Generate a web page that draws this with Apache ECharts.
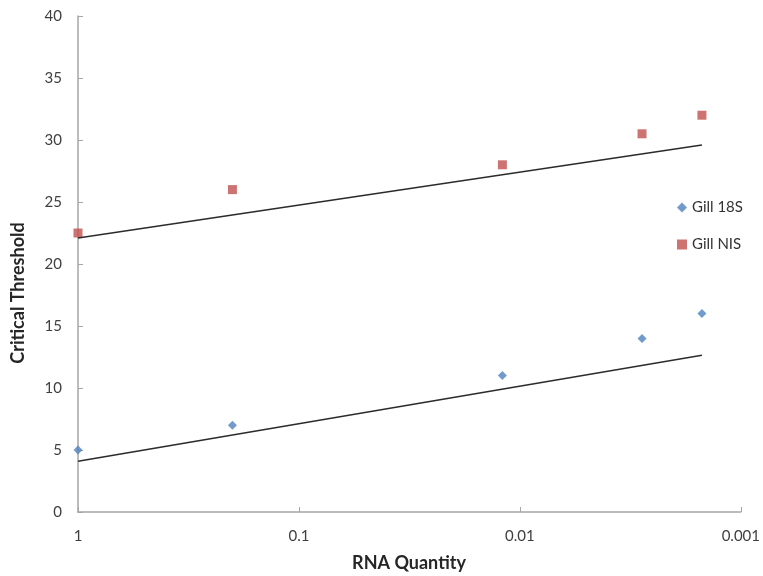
<!DOCTYPE html>
<html><head><meta charset="utf-8">
<script src="https://cdn.jsdelivr.net/npm/echarts@6/dist/echarts.min.js"></script>
<style>html,body{margin:0;padding:0;background:#fff}#c{width:763px;height:576px}</style>
</head><body><div id="c"></div>
<script>
const quantities = [1, 0.2, 0.012, 0.0028, 0.0015];
const gill18S = [5, 7, 11, 14, 16];
const gillNIS = [22.5, 26, 28, 30.5, 32];
const trendX = [1, 0.0015];
const trend18S = [4.1, 12.65];
const trendNIS = [22.1, 29.6];
const xTicks = [1, 0.1, 0.01, 0.001];

const font = 'Lato, "Open Sans", sans-serif';
const chart = echarts.init(document.getElementById('c'));
chart.setOption({
  animation: false,
  backgroundColor: '#fff',
  grid: {left: 78, right: 22, top: 16, bottom: 64},
  graphic: [
    {type: 'text', x: 409, y: 563, style: {text: 'RNA Quantity', fontFamily: font, fontSize: 18, fontWeight: 'bold', fill: '#262626', align: 'center', verticalAlign: 'middle'}},
    {type: 'text', x: 18, y: 293, rotation: Math.PI / 2, style: {text: 'Critical Threshold', fontFamily: font, fontSize: 18, fontWeight: 'bold', fill: '#262626', align: 'center', verticalAlign: 'middle'}}
  ],
  legend: {
    orient: 'vertical', left: 672, top: 195, itemGap: 22,
    itemWidth: 10, itemHeight: 10,
    textStyle: {fontFamily: font, fontSize: 15, color: '#333'},
    data: [{name: 'Gill 18S', icon: 'diamond'}, {name: 'Gill NIS', icon: 'rect'}]
  },
  xAxis: {
    type: 'log', logBase: 10, min: 0.001, max: 1, inverse: true,
    axisLine: {lineStyle: {color: '#a6a6a6', width: 1.5}},
    axisTick: {show: true, inside: true, length: 5, lineStyle: {color: '#a6a6a6'}},
    minorTick: {show: false},
    splitLine: {show: false},
    axisLabel: {fontFamily: font, fontSize: 15, color: '#404040', margin: 17,
      formatter: v => { const t = xTicks.find(x => Math.abs(Math.log10(x) - Math.log10(v)) < 1e-6); return t === undefined ? '' : String(t); }}
  },
  yAxis: {
    type: 'value', min: 0, max: 40, interval: 5,
    axisLine: {show: true, lineStyle: {color: '#a6a6a6', width: 1.5}},
    axisTick: {show: true, inside: true, length: 5, lineStyle: {color: '#a6a6a6'}},
    splitLine: {show: false},
    axisLabel: {fontFamily: font, fontSize: 15, color: '#404040', margin: 16}
  },
  series: [
    {name: 'Gill 18S', type: 'scatter', symbol: 'diamond', symbolSize: 9,
      itemStyle: {color: '#4f81bd'}, data: quantities.map((q, i) => [q, gill18S[i]])},
    {name: 'Gill NIS', type: 'scatter', symbol: 'rect', symbolSize: 9,
      itemStyle: {color: '#c0504d'}, data: quantities.map((q, i) => [q, gillNIS[i]])},
    {name: 'trend18S', type: 'line', symbol: 'none', silent: true,
      lineStyle: {color: '#2b2b2b', width: 1.5}, data: trendX.map((q, i) => [q, trend18S[i]])},
    {name: 'trendNIS', type: 'line', symbol: 'none', silent: true,
      lineStyle: {color: '#2b2b2b', width: 1.5}, data: trendX.map((q, i) => [q, trendNIS[i]])}
  ]
});
</script></body></html>
